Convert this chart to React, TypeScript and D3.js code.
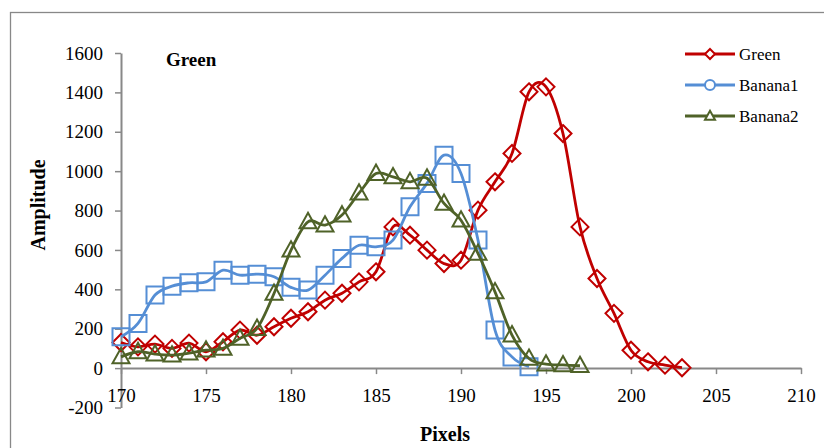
import React, { useEffect, useRef } from "react";
import * as d3 from "d3";

const pixels = d3.range(170, 204);
const green = [130, 108, 122, 100, 127, 83, 134, 193, 167, 210, 253, 286, 345, 380, 438, 489, 717, 675, 599, 531, 548, 802, 946, 1090, 1403, 1428, 1191, 717, 455, 278, 91, 32, 15, 2];
const banana1 = [159, 227, 371, 416, 433, 438, 497, 472, 477, 464, 410, 396, 472, 557, 624, 616, 650, 819, 938, 1081, 988, 650, 193, 57, 7];
const banana2 = [57, 83, 71, 66, 76, 91, 100, 151, 201, 379, 599, 743, 726, 777, 888, 988, 971, 946, 964, 836, 751, 582, 387, 168, 49, 20, 16, 12];
const xTicks = [170, 175, 180, 185, 190, 195, 200, 205, 210];
const yTicks = [-200, 0, 200, 400, 600, 800, 1000, 1200, 1400, 1600];

const series = [
  { name: "Green", values: green, color: "#C00000", marker: "diamond" },
  { name: "Banana1", values: banana1, color: "#558ED5", marker: "square" },
  { name: "Banana2", values: banana2, color: "#4F6228", marker: "triangle" },
];

const W = 824, H = 448;
const font = "'Liberation Serif', 'Times New Roman', serif";

function markerPath(type: string, s: number) {
  if (type === "diamond") return `M0,${-s}L${s},0L0,${s}L${-s},0Z`;
  if (type === "square") return `M${-s},${-s}H${s}V${s}H${-s}Z`;
  if (type === "circle") return d3.symbol(d3.symbolCircle, Math.PI * s * s)() as string;
  return `M0,${-s * 1.05}L${s},${s * 0.75}L${-s},${s * 0.75}Z`;
}

export default function App() {
  const ref = useRef<SVGSVGElement>(null);
  useEffect(() => {
    const svg = d3.select(ref.current);
    svg.selectAll("*").remove();
    const x = d3.scaleLinear().domain([170, 210]).range([121, 801]);
    const y = d3.scaleLinear().domain([-200, 1600]).range([407.5, 53]);

    // outer border
    svg.append("rect").attr("x", 10.5).attr("y", 12.5).attr("width", 830).attr("height", 460)
      .attr("fill", "none").attr("stroke", "#888").attr("stroke-width", 1.3);

    // y axis
    const yAxis = svg.append("g").attr("transform", `translate(${x(170)},0)`)
      .call(d3.axisLeft(y).tickValues(yTicks).tickFormat((d) => String(d)).tickSize(6).tickPadding(12).tickSizeOuter(0));
    yAxis.select(".domain").attr("stroke", "#888").attr("stroke-width", 2);
    yAxis.selectAll(".tick line").attr("stroke", "#888").attr("stroke-width", 1.5);
    yAxis.selectAll("text").attr("font-family", font).attr("font-size", 19).attr("fill", "#000");

    // x axis at zero
    const xAxis = svg.append("g").attr("transform", `translate(0,${y(0)})`)
      .call(d3.axisBottom(x).tickValues(xTicks).tickFormat((d) => String(d)).tickSize(6).tickPadding(14).tickSizeOuter(0));
    xAxis.select(".domain").attr("stroke", "#888").attr("stroke-width", 2);
    xAxis.selectAll(".tick line").attr("stroke", "#888").attr("stroke-width", 1.5);
    xAxis.selectAll("text").attr("font-family", font).attr("font-size", 19).attr("fill", "#000");

    const line = d3.line<number>().x((_, i) => x(pixels[i])).y((d) => y(d)).curve(d3.curveCardinal.tension(0));

    series.forEach((s) => {
      const g = svg.append("g");
      g.append("path").attr("d", line(s.values)).attr("fill", "none")
        .attr("stroke", s.color).attr("stroke-width", 2.8);
      g.selectAll("path.m").data(s.values).join("path").attr("class", "m")
        .attr("transform", (d, i) => `translate(${x(pixels[i])},${y(d)})`)
        .attr("d", markerPath(s.marker, 8.5))
        .attr("fill", "none").attr("stroke", s.color).attr("stroke-width", 2);
    });

    // legend
    const legendMarkers = ["diamond", "circle", "triangle"];
    series.forEach((s, i) => {
      const ly = 54 + i * 31;
      const lg = svg.append("g");
      lg.append("line").attr("x1", 685).attr("x2", 735).attr("y1", ly).attr("y2", ly)
        .attr("stroke", s.color).attr("stroke-width", 2.8);
      lg.append("path").attr("transform", `translate(710,${ly})`)
        .attr("d", markerPath(legendMarkers[i], 5)).attr("fill", "#fff")
        .attr("stroke", s.color).attr("stroke-width", 2);
      lg.append("text").attr("x", 739).attr("y", ly + 6).attr("font-family", font)
        .attr("font-size", 17).attr("fill", "#000").text(s.name);
    });

    svg.append("text").attr("x", 166).attr("y", 66).attr("font-family", font)
      .attr("font-size", 19).attr("font-weight", "bold").text("Green");
    svg.append("text").attr("x", 445).attr("y", 441).attr("text-anchor", "middle")
      .attr("font-family", font).attr("font-size", 20).attr("font-weight", "bold").text("Pixels");
    svg.append("text").attr("transform", "translate(45,205) rotate(-90)").attr("text-anchor", "middle")
      .attr("font-family", font).attr("font-size", 20).attr("font-weight", "bold").text("Amplitude");
  }, []);
  return (
    <svg ref={ref} width={W} height={H} style={{ position: "absolute", left: 0, top: 0, background: "#fff" }} />
  );
}
